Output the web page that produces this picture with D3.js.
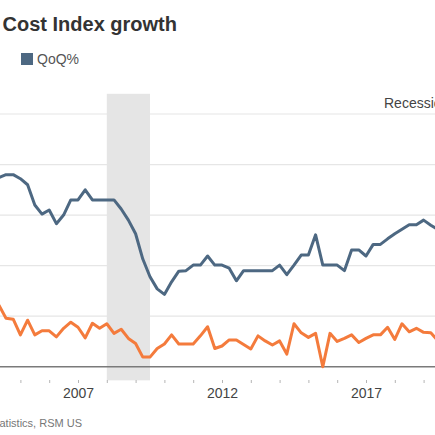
<!DOCTYPE html>
<html>
<head>
<meta charset="utf-8">
<script src="https://cdn.jsdelivr.net/npm/d3@7"></script>
<style>
  html, body { margin: 0; padding: 0; background: #fff; overflow: hidden; }
  svg { display: block; font-family: "Liberation Sans", Arial, sans-serif; }
</style>
</head>
<body>
<div id="chart"></div>
<script>
// quarterly series, first point is 2004 Q2
const startYear = 2004.25;
const yoyValues = [
  3.74, 3.80, 3.80,
  3.72, 3.60, 3.20, 3.02,
  3.10, 2.83, 3.00, 3.30,
  3.30, 3.50, 3.30, 3.30,
  3.30, 3.30, 3.12, 2.90,
  2.63, 2.13, 1.78, 1.54,
  1.43, 1.68, 1.89, 1.90,
  2.01, 2.01, 2.19, 2.01,
  2.01, 1.95, 1.70, 1.90,
  1.90, 1.90, 1.90, 1.90,
  2.01, 1.82, 2.01, 2.21,
  2.21, 2.61, 2.01, 2.01,
  2.01, 1.90, 2.31, 2.31,
  2.19, 2.42, 2.42, 2.53,
  2.63, 2.72, 2.81, 2.81,
  2.90, 2.80, 2.71
];
const qoqValues = [
  1.22, 0.96, 0.94,
  0.63, 0.92, 0.63, 0.71,
  0.71, 0.59, 0.76, 0.88,
  0.78, 0.57, 0.86, 0.76,
  0.85, 0.66, 0.74, 0.56,
  0.46, 0.19, 0.19, 0.36,
  0.45, 0.63, 0.45, 0.45,
  0.45, 0.61, 0.79, 0.36,
  0.41, 0.53, 0.53, 0.44,
  0.35, 0.61, 0.51, 0.43,
  0.51, 0.25, 0.85, 0.67,
  0.58, 0.66, 0.00, 0.66,
  0.50, 0.56, 0.63, 0.48,
  0.56, 0.63, 0.63, 0.78,
  0.54, 0.85, 0.69, 0.76,
  0.68, 0.67, 0.51
];
const tickYears = d3.range(2004, 2021);
const labelYears = [2007, 2012, 2017];
const gridValues = [1, 2, 3, 4, 5];
const recession = [2008.0, 2009.5];

const W = 435, H = 435;
const slate = "#4d6882", orange = "#f47b3c";

const svg = d3.select("#chart").append("svg")
  .attr("width", W).attr("height", H);

// the chart is cropped on both sides, so the scales run past the edges
const x = d3.scaleLinear().domain([2004, 2020]).range([-8.4, 452.4]);
const y = d3.scaleLinear().domain([0, 5]).range([366.7, 114]);

const t = i => startYear + i * 0.25;

// gridlines
svg.append("g")
  .selectAll("line")
  .data(gridValues)
  .enter()
  .append("line")
  .attr("x1", 0).attr("x2", W)
  .attr("y1", d => y(d)).attr("y2", d => y(d))
  .attr("stroke", "#e6e6e6")
  .attr("stroke-width", 1.2);

// recession band
svg.append("rect")
  .attr("x", x(recession[0]))
  .attr("width", x(recession[1]) - x(recession[0]))
  .attr("y", y(5.4))
  .attr("height", y(-0.27) - y(5.4))
  .attr("fill", "#e5e5e5");

// zero line
svg.append("line")
  .attr("x1", 0).attr("x2", W)
  .attr("y1", y(0)).attr("y2", y(0))
  .attr("stroke", "#7a7a7a")
  .attr("stroke-width", 1.5);

// x axis
const xAxis = svg.append("g")
  .attr("transform", "translate(0,380)")
  .call(d3.axisBottom(x)
    .tickValues(tickYears)
    .tickSize(3)
    .tickPadding(5)
    .tickFormat(d => labelYears.includes(d) ? String(d) : ""));
xAxis.select(".domain").remove();
xAxis.selectAll(".tick line").attr("stroke", "#b5b5b5");
xAxis.selectAll(".tick text")
  .attr("fill", "#444")
  .style("font-size", "14px")
  .style("font-family", "\"Liberation Sans\", Arial, sans-serif");

// lines
const line = d3.line()
  .x((d, i) => x(t(i)))
  .y(d => y(d));

svg.append("path")
  .datum(qoqValues)
  .attr("d", line)
  .attr("fill", "none")
  .attr("stroke", orange)
  .attr("stroke-width", 3)
  .attr("stroke-linejoin", "round");

svg.append("path")
  .datum(yoyValues)
  .attr("d", line)
  .attr("fill", "none")
  .attr("stroke", slate)
  .attr("stroke-width", 3)
  .attr("stroke-linejoin", "round");

// title, legend, notes
svg.append("text")
  .attr("x", 177).attr("y", 31)
  .attr("text-anchor", "end")
  .attr("fill", "#333")
  .style("font-size", "20px")
  .style("font-weight", "bold")
  .text("Employment Cost Index growth");

svg.append("rect")
  .attr("x", 21).attr("y", 53)
  .attr("width", 12).attr("height", 12)
  .attr("fill", slate);

svg.append("text")
  .attr("x", 37).attr("y", 63.5)
  .attr("fill", "#555")
  .style("font-size", "14px")
  .text("QoQ%");

svg.append("text")
  .attr("x", 384).attr("y", 108.3)
  .attr("fill", "#444")
  .style("font-size", "14px")
  .text("Recession");

svg.append("text")
  .attr("x", 82).attr("y", 426.5)
  .attr("text-anchor", "end")
  .attr("fill", "#777")
  .style("font-size", "11px")
  .text("Source: Bureau of Labor Statistics, RSM US");
</script>
</body>
</html>
